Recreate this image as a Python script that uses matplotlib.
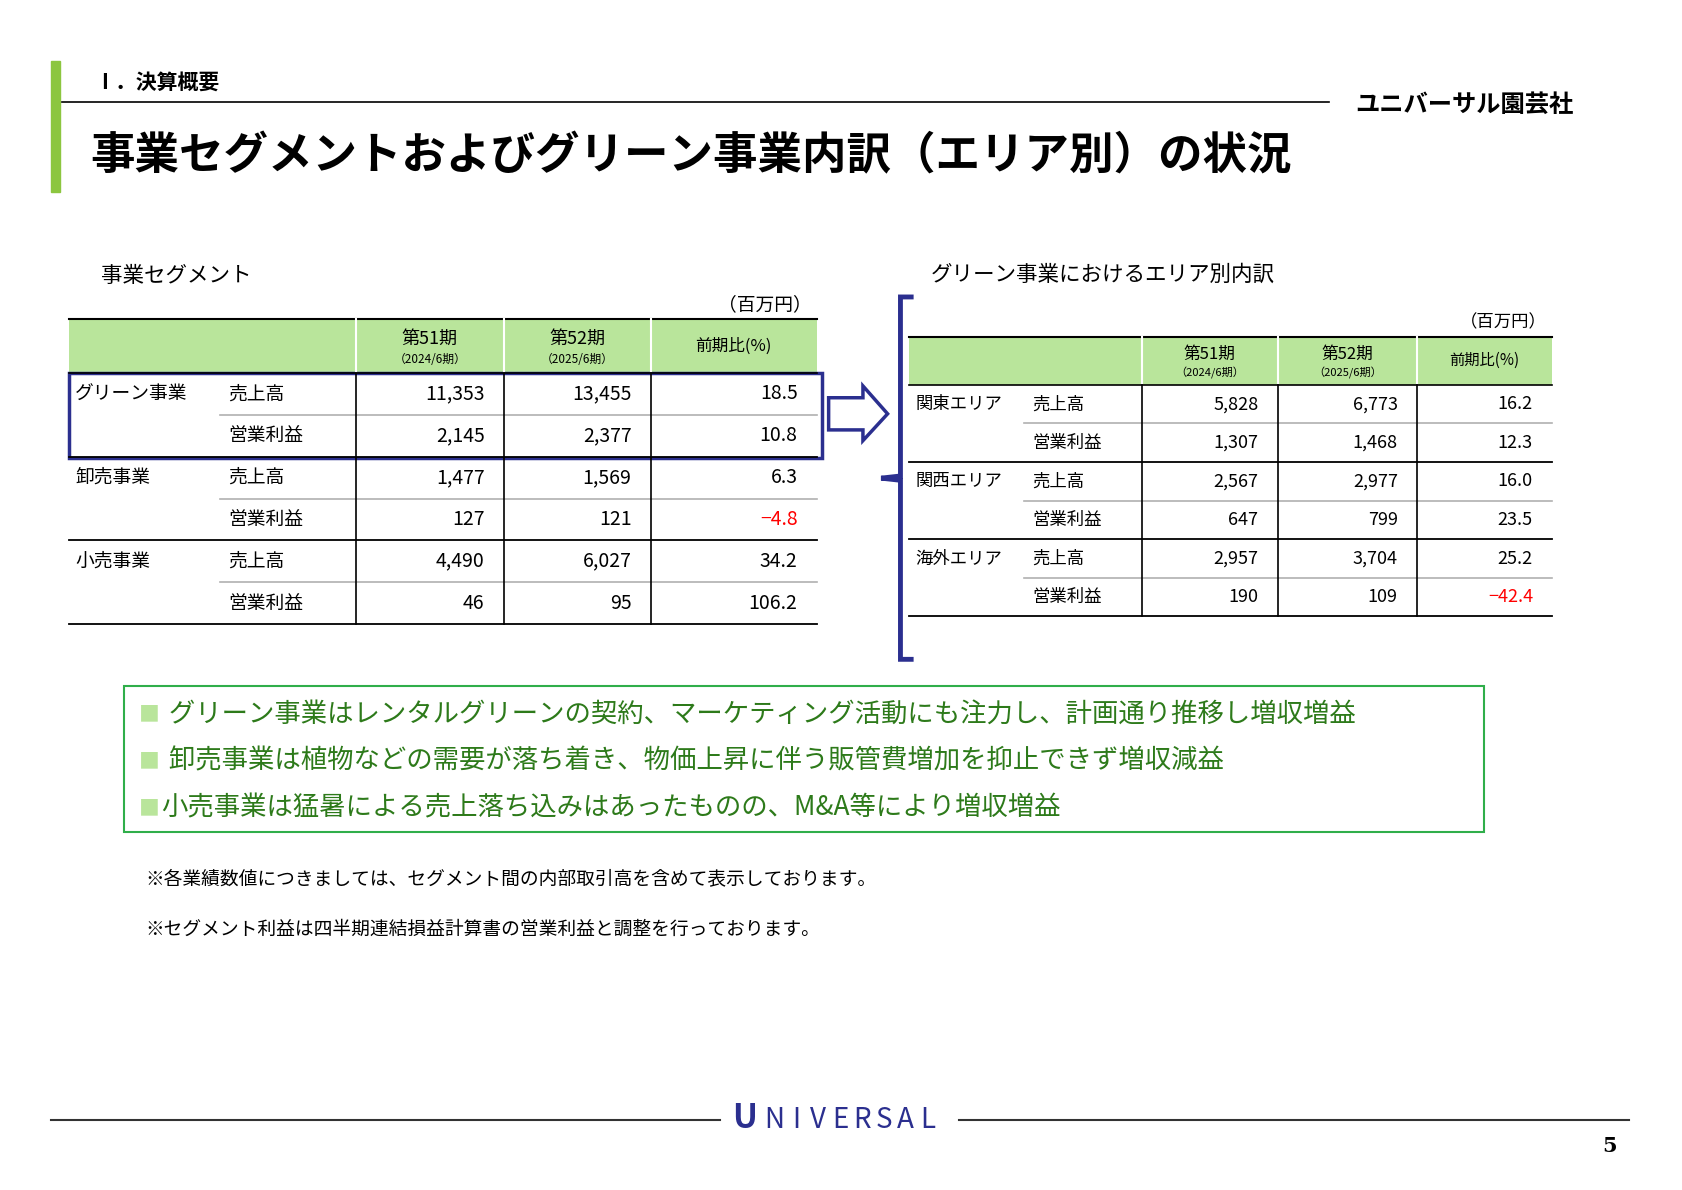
import matplotlib
matplotlib.use("Agg")
import matplotlib.pyplot as plt
from matplotlib.patches import Rectangle, Polygon

plt.rcParams['font.family'] = ['Noto Sans CJK JP', 'DejaVu Sans']

# ---- data ----
seg_names = ["グリーン事業", "卸売事業", "小売事業"]
item_names = ["売上高", "営業利益"]
seg_p51 = [11353, 2145, 1477, 127, 4490, 46]
seg_p52 = [13455, 2377, 1569, 121, 6027, 95]
seg_yoy = [18.5, 10.8, 6.3, -4.8, 34.2, 106.2]

area_names = ["関東エリア", "関西エリア", "海外エリア"]
area_p51 = [5828, 1307, 2567, 647, 2957, 190]
area_p52 = [6773, 1468, 2977, 799, 3704, 109]
area_yoy = [16.2, 12.3, 16.0, 23.5, 25.2, -42.4]

col_heads = [("第51期", "（2024/6期）"), ("第52期", "（2025/6期）")]
bullets = ["■ グリーン事業はレンタルグリーンの契約、マーケティング活動にも注力し、計画通り推移し増収増益",
           "■ 卸売事業は植物などの需要が落ち着き、物価上昇に伴う販管費増加を抑止できず増収減益",
           "■小売事業は猛暑による売上落ち込みはあったものの、M&A等により増収増益"]
notes = ["※各業績数値につきましては、セグメント間の内部取引高を含めて表示しております。",
         "※セグメント利益は四半期連結損益計算書の営業利益と調整を行っております。"]

W, H = 1570, 1110
fig = plt.figure(figsize=(16.83, 11.90), dpi=100)
ax = fig.add_axes([0, 0, 1, 1])
ax.set_xlim(0, W); ax.set_ylim(H, 0); ax.axis('off')

GREEN = "#b9e59b"
NAVY = "#2b2f8f"

# header
ax.add_patch(Rectangle((48, 57), 8, 122, color="#8cc63f"))
ax.plot([58, 1240], [95, 95], color="black", lw=1.2)
ax.text(88, 77, "Ⅰ．決算概要", fontsize=15, fontweight='bold', va='center')
ax.text(1468, 98, "ユニバーサル園芸社", fontsize=17.5, fontweight='bold', va='center', ha='right')
ax.text(84, 146, "事業セグメントおよびグリーン事業内訳（エリア別）の状況", fontsize=32, fontweight='bold', va='center')

def fmt(v):
    return f"{v:,}"

def table(x, top, hh, rh, names, p51, p52, yoy, fs, hfs, sfs, unit_y, title, title_xy):
    x0, x1, x2, x3, x4, x5 = x
    ax.text(title_xy[0], title_xy[1], title, fontsize=15.5, va='center')
    ax.text(x5 - 5, unit_y, "（百万円）", fontsize=fs, va='center', ha='right')
    ax.add_patch(Rectangle((x0, top), x5 - x0, hh, color=GREEN, lw=0))
    ax.plot([x0, x5], [top, top], color="black", lw=1.5)
    for i, (a, b) in enumerate(col_heads):
        cx = (x[2 + i] + x[3 + i]) / 2
        ax.text(cx, top + hh * 0.36, a, fontsize=hfs, ha='center', va='center')
        ax.text(cx, top + hh * 0.75, b, fontsize=sfs, ha='center', va='center')
    ax.text((x4 + x5) / 2, top + hh / 2, "前期比(%)", fontsize=hfs - 1, ha='center', va='center')
    for xv in (x2, x3, x4):
        ax.plot([xv, xv], [top, top + hh], color="white", lw=1.5)
    y = top + hh
    ax.plot([x0, x5], [y, y], color="black", lw=1.2)
    for i in range(6):
        yc = y + rh * (i + 0.5)
        if i % 2 == 0:
            ax.text(x0 + 6, yc, names[i // 2], fontsize=fs, va='center')
        ax.text(x1 + 8, yc, item_names[i % 2], fontsize=fs, va='center')
        ax.text(x3 - 18, yc, fmt(p51[i]), fontsize=fs + 0.5, va='center', ha='right')
        ax.text(x4 - 18, yc, fmt(p52[i]), fontsize=fs + 0.5, va='center', ha='right')
        ax.text(x5 - 18, yc, f"{yoy[i]:.1f}".replace("-", "−"), fontsize=fs + 0.5, va='center', ha='right',
                color="red" if yoy[i] < 0 else "black")
        yb = y + rh * (i + 1)
        if i % 2 == 0:
            ax.plot([x1, x5], [yb, yb], color="#b0b0b0", lw=1.2)
        else:
            ax.plot([x0, x5], [yb, yb], color="black", lw=1.3)
    for xv in (x2, x3, x4):
        ax.plot([xv, xv], [y, y + 6 * rh], color="black", lw=1.2)
    return y

table([64, 205, 332, 470, 607, 762], 298, 50, 39, seg_names, seg_p51, seg_p52, seg_yoy,
      13.5, 13, 8.5, 284, "事業セグメント", (94, 257))
table([848, 955, 1065, 1192, 1322, 1448], 314, 45, 36, area_names, area_p51, area_p52, area_yoy,
      12.5, 12, 8, 301, "グリーン事業におけるエリア別内訳", (868, 256))

# blue box around green business
ax.add_patch(Rectangle((64, 348), 703, 79, fill=False, ec=NAVY, lw=2.5))
# arrow
arrow = [(773, 371), (805, 371), (805, 360), (828, 386), (805, 411), (805, 401), (773, 401)]
ax.add_patch(Polygon(arrow, closed=True, fill=False, ec=NAVY, lw=2.5))
# brace
ax.plot([850, 840, 840, 822, 840, 840, 850], [277, 277, 444, 446, 448, 615, 615],
        color=NAVY, lw=3.5, solid_joinstyle='miter')

# bullet box
ax.add_patch(Rectangle((116, 640), 1268, 136, fill=False, ec="#2fae4a", lw=1.5))
for i, b in enumerate(bullets):
    yb = 666 + i * 44
    sq, rest = b[0], b[1:]
    ax.text(130, yb, sq, fontsize=15, color="#b9e59b", va='center')
    ax.text(152 if i < 2 else 150, yb, rest, fontsize=19, color="#2d7a1a", va='center')

for i, n in enumerate(notes):
    ax.text(136, 820 + i * 47, n, fontsize=13.5, va='center')

# footer
ax.plot([48, 672], [1045, 1045], color="#333333", lw=1.5)
ax.plot([895, 1520], [1045, 1045], color="#333333", lw=1.5)
ax.text(683, 1043, "U", fontsize=24, color=NAVY, va='center', fontweight='bold')
for k, ch in enumerate("NIVERSAL"):
    ax.text(722 + k * 20.5, 1045, ch, fontsize=20, color=NAVY, va='center', ha='center')
ax.text(1508, 1069, "5", fontsize=15, fontweight='bold', family='DejaVu Serif', va='center', ha='right')

fig.savefig("out.png", dpi=100)
